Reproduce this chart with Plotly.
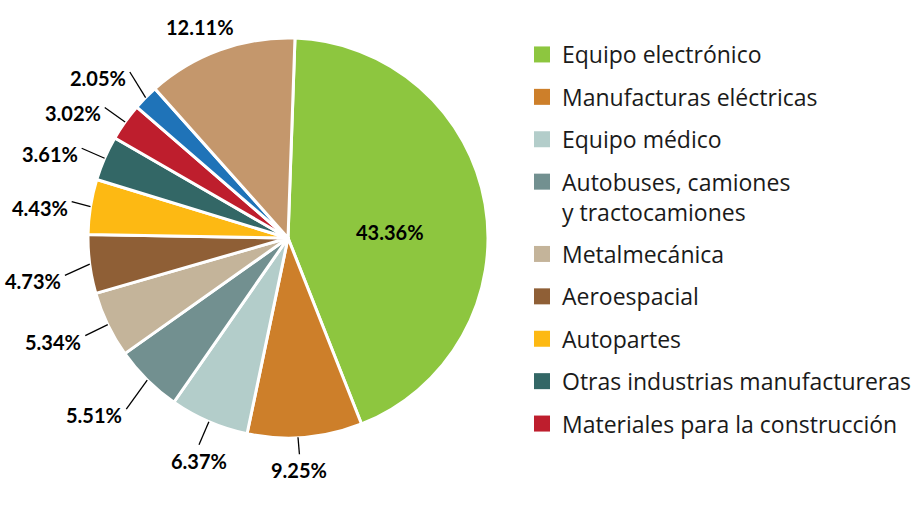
import math
import plotly.graph_objects as go

# Participation by industry (%), clockwise from 12 o'clock
categories = [
    "Equipo electrónico",
    "Manufacturas eléctricas",
    "Equipo médico",
    "Autobuses, camiones<br>y tractocamiones",
    "Metalmecánica",
    "Aeroespacial",
    "Autopartes",
    "Otras industrias manufactureras",
    "Materiales para la construcción",
    "Otros sectores",
    "Resto",
]
values = [43.36, 9.25, 6.37, 5.51, 5.34, 4.73, 4.43, 3.61, 3.02, 2.05, 12.11]
colors = [
    "#8DC63F", "#CD7F2A", "#B3CDCA", "#729090", "#C4B49A", "#8F5F36",
    "#FDB913", "#336766", "#BE1E2D", "#1F73B8", "#C4976C",
]
in_legend = [True] * 9 + [False] * 2

W, H = 917, 508
CX, CY, R = 288, 238, 200          # pie centre and radius in pixels
ROTATION = 2                        # degrees clockwise from 12 o'clock
FONT = "Lato"
LEGEND_FONT = "Open Sans"

# leader length and small label nudges (pixels) for the outside labels
LEADER = {1: 17, 3: 34, 6: 19}
NUDGE = {1: (-7, 0), 5: (0, 8), 3: (3, 5), 9: (2, -8), 6: (0, -2)}

fig = go.Figure()
fig.add_trace(go.Pie(
    labels=categories,
    values=values,
    sort=False,
    direction="clockwise",
    rotation=ROTATION,
    marker=dict(colors=colors, line=dict(color="white", width=3)),
    textinfo="none",
    hoverinfo="label+value",
    showlegend=False,
    domain=dict(x=[(CX - R) / W, (CX + R) / W],
                y=[1 - (CY + R) / H, 1 - (CY - R) / H]),
))

# Legend entries (square swatches)
for name, col, show in zip(categories, colors, in_legend):
    if not show:
        continue
    fig.add_trace(go.Scatter(
        x=[None], y=[None], mode="markers", name=name, legendgroup=name,
        marker=dict(symbol="square", size=18, color=col),
    ))


def px2paper(x, y):
    return x / W, 1 - y / H


# Percentage labels with leader lines, placed along each slice's mid-angle
total = sum(values)
angle = ROTATION
shapes, annotations = [], []
for i, v in enumerate(values):
    span = v / total * 360
    mid = math.radians(angle + span / 2)
    angle += span
    sx, sy = math.sin(mid), -math.cos(mid)
    text = f"<b>{v:.2f}%</b>"
    if i == 0:
        tx, ty = CX + 0.52 * R * sx, CY + 0.52 * R * sy + 12
        ax, ay = px2paper(tx, ty)
        annotations.append(dict(x=ax, y=ay, text=text, showarrow=False,
                                xanchor="center", yanchor="middle"))
        continue
    if i == len(values) - 1:
        tx, ty = CX + (R + 28) * sx - 11, CY + (R + 28) * sy + 3
        ax, ay = px2paper(tx, ty)
        annotations.append(dict(x=ax, y=ay, text=text, showarrow=False,
                                xanchor="center", yanchor="middle"))
        continue
    L = LEADER.get(i, 25)
    nx, ny = NUDGE.get(i, (0, 0))
    x0, y0 = CX + R * sx + (nx if i == 1 else 0), CY + R * sy
    x1, y1 = CX + (R + L) * sx + nx, CY + (R + L) * sy + ny
    p0, p1 = px2paper(x0, y0), px2paper(x1, y1)
    shapes.append(dict(type="line", xref="paper", yref="paper",
                       x0=p0[0], y0=p0[1], x1=p1[0], y1=p1[1],
                       line=dict(color="black", width=1.3)))
    if abs(sx) < 0.45 and sy > 0:
        ax, ay = px2paper(x1, y1 + 2)
        annotations.append(dict(x=ax, y=ay, text=text, showarrow=False,
                                xanchor="center", yanchor="top"))
    else:
        ax, ay = px2paper(x1 - 2, y1 + 6)
        annotations.append(dict(x=ax, y=ay, text=text, showarrow=False,
                                xanchor="right", yanchor="middle"))

for a in annotations:
    a.update(xref="paper", yref="paper",
             font=dict(family=FONT, size=20, color="black"))

fig.update_layout(
    width=W, height=H,
    margin=dict(l=0, r=0, t=0, b=0),
    paper_bgcolor="white", plot_bgcolor="white",
    font=dict(family=FONT, color="#1a1a1a"),
    xaxis=dict(visible=False), yaxis=dict(visible=False),
    shapes=shapes, annotations=annotations,
    legend=dict(
        x=522 / W, y=1 - 33 / H, xanchor="left", yanchor="top",
        font=dict(family=LEGEND_FONT, size=23, color="#1a1a1a"),
        tracegroupgap=9.5, valign="top", itemclick=False,
        bgcolor="rgba(0,0,0,0)",
    ),
)

fig.write_html("out.html")
